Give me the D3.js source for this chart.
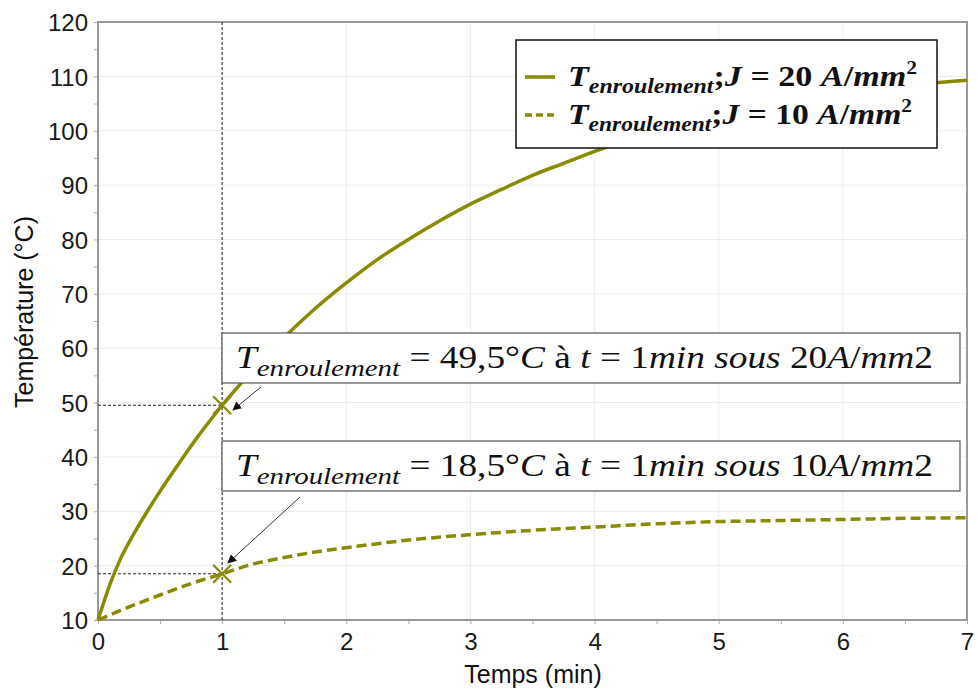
<!DOCTYPE html>
<html><head><meta charset="utf-8">
<script src="https://cdn.jsdelivr.net/npm/d3@7"></script>
<style>body{margin:0;background:#fff}svg{display:block}</style>
</head><body>
<svg id="c" width="978" height="689"></svg>
<script>
const time20 = [0,0.1,0.18,0.3,0.4,0.5,0.6,0.7,0.8,0.9,1.0,1.25,1.5,1.75,2.0,2.25,2.5,2.75,3.0,3.25,3.5,3.75,4.0,4.5,5,5.5,6,6.5,7];
const temp20 = [10,16.8,21.2,26.3,30.1,33.7,37.1,40.4,43.6,46.6,49.5,56,62,67.3,72,76.3,80,83.4,86.5,89.2,91.8,94,96.2,100,103,105.3,107,108.3,109.3];
const time10 = [0,0.25,0.5,0.75,1,1.25,1.5,1.75,2,2.5,3,3.5,4,4.5,5,5.5,6,6.5,7];
const temp10 = [10,12.4,14.6,16.7,18.5,20.3,21.5,22.5,23.3,24.7,25.7,26.5,27.1,27.7,28.1,28.3,28.5,28.7,28.8];
const xTicks = [0,1,2,3,4,5,6,7];
const yTicks = [10,20,30,40,50,60,70,80,90,100,110,120];
const markers = [{t:1, v:49.5}, {t:1, v:18.5}];
const olive = "#8a8a00";

const svg = d3.select("#c");
const x = d3.scaleLinear().domain([0,7]).range([98,967]);
const y = d3.scaleLinear().domain([10,120]).range([620,22]);

// grid
svg.append("g").selectAll("line").data(yTicks.slice(1)).join("line")
  .attr("x1",x(0)).attr("x2",x(7)).attr("y1",d=>y(d)).attr("y2",d=>y(d))
  .attr("stroke","#ececec").attr("stroke-width",1);
svg.append("g").selectAll("line").data(xTicks.slice(1)).join("line")
  .attr("y1",y(10)).attr("y2",y(120)).attr("x1",d=>x(d)).attr("x2",d=>x(d))
  .attr("stroke","#ececec").attr("stroke-width",1);

// axes
const yAxis = svg.append("g").attr("transform",`translate(${x(0)},0)`)
  .call(d3.axisLeft(y).tickValues(d3.range(10,121,5)).tickSize(4).tickFormat(d=> d%10===0 ? d : ""));
const xAxis = svg.append("g").attr("transform",`translate(0,${y(10)})`)
  .call(d3.axisBottom(x).tickValues(d3.range(0,7.01,0.5)).tickSize(4).tickFormat(d=> Number.isInteger(d) ? d : ""));
[yAxis,xAxis].forEach(a=>{
  a.select(".domain").remove();
  a.selectAll(".tick line").attr("stroke","#aaa");
  a.attr("font-size",null).attr("font-family",null);
  a.selectAll("text").style("font-family","'Liberation Sans', Arial, sans-serif").style("font-size","24px").attr("fill","#1a1a1a");
});
yAxis.selectAll("text").attr("x",-10).attr("dy","0.36em");
xAxis.selectAll("text").attr("y",13);

// frame
svg.append("rect").attr("x",x(0)).attr("y",y(120)).attr("width",x(7)-x(0)).attr("height",y(10)-y(120))
  .attr("fill","none").attr("stroke","#9a9a9a").attr("stroke-width",2);

// axis titles
svg.append("text").attr("x",533).attr("y",683).attr("text-anchor","middle")
  .attr("font-family","Liberation Sans, Arial, sans-serif").attr("font-size",25).attr("fill","#111").text("Temps (min)");
svg.append("text").attr("transform","translate(33,312) rotate(-90)").attr("text-anchor","middle")
  .attr("font-family","Liberation Sans, Arial, sans-serif").attr("font-size",25).attr("fill","#111").text("Température (°C)");

// reference dashed lines
const ref = svg.append("g").attr("stroke","#222").attr("stroke-width",1).attr("stroke-dasharray","3,2").attr("fill","none");
ref.append("line").attr("x1",x(1)).attr("x2",x(1)).attr("y1",y(120)).attr("y2",y(10));
markers.forEach(m=>{
  ref.append("line").attr("x1",x(0)).attr("x2",x(m.t)).attr("y1",y(m.v)).attr("y2",y(m.v));
});

// lines
const line = d3.line().x(d=>x(d[0])).y(d=>y(d[1])).curve(d3.curveMonotoneX);
svg.append("path").datum(time20.map((t,i)=>[t,temp20[i]])).attr("d",line)
  .attr("fill","none").attr("stroke",olive).attr("stroke-width",3.5);
svg.append("path").datum(time10.map((t,i)=>[t,temp10[i]])).attr("d",line)
  .attr("fill","none").attr("stroke",olive).attr("stroke-width",3.5).attr("stroke-dasharray","10,5");

// markers
markers.forEach(m=>{
  const cx=x(m.t), cy=y(m.v), s=9;
  svg.append("path").attr("d",`M${cx-s},${cy-s}L${cx+s},${cy+s}M${cx-s},${cy+s}L${cx+s},${cy-s}`)
    .attr("stroke",olive).attr("stroke-width",2.2);
});

// arrows
const defs = svg.append("defs");
defs.append("marker").attr("id","ah").attr("viewBox","0 0 10 10").attr("refX",9).attr("refY",5)
  .attr("markerWidth",9).attr("markerHeight",9).attr("markerUnits","userSpaceOnUse").attr("orient","auto")
  .append("path").attr("d","M0,0L10,5L0,10Z").attr("fill","#111");
svg.append("line").attr("x1",261).attr("y1",387).attr("x2",233).attr("y2",410)
  .attr("stroke","#333").attr("stroke-width",1).attr("marker-end","url(#ah)");
svg.append("line").attr("x1",300).attr("y1",497).attr("x2",228).attr("y2",563)
  .attr("stroke","#333").attr("stroke-width",1).attr("marker-end","url(#ah)");

// annotation boxes
const serif = "Liberation Serif, DejaVu Serif, serif";
function annot(y0, val, dens){
  svg.append("rect").attr("x",222).attr("y",y0).attr("width",738).attr("height",50)
    .attr("fill","#fff").attr("stroke","#555").attr("stroke-width",1.2);
  const t = svg.append("text").attr("x",236).attr("y",y0+35).attr("font-family",serif).attr("font-size",31).attr("fill","#111");
  const parts = [["T","italic",31,0],["enroulement","italic",24,8],[" = "+val+"°","normal",31,-8],["C","italic",31,0],[" à ","normal",31,0],["t","italic",31,0],[" = 1","normal",31,0],["min sous","italic",31,0],[" "+dens,"normal",31,0],["A","italic",31,0],["/","normal",31,0],["mm","italic",31,0],["2","normal",31,0]];
  parts.forEach(p=>t.append("tspan").attr("font-style",p[1]).attr("font-size",p[2]).attr("dy",p[3]).text(p[0]));
  t.attr("textLength",697).attr("lengthAdjust","spacingAndGlyphs");
}
annot(333,"49,5","20");
annot(441,"18,5","10");

// legend
svg.append("rect").attr("x",516).attr("y",40).attr("width",421).attr("height",108)
  .attr("fill","#fff").attr("stroke","#111").attr("stroke-width",1.5);
const leg = [{dens:"20", dash:null, yy:77, len:349},{dens:"10", dash:"7,4", yy:115, len:344}];
leg.forEach(l=>{
  svg.append("line").attr("x1",525).attr("x2",555).attr("y1",l.yy).attr("y2",l.yy)
    .attr("stroke",olive).attr("stroke-width",3.5).attr("stroke-dasharray",l.dash);
  const t = svg.append("text").attr("x",568).attr("y",l.yy+9).attr("font-family",serif).attr("font-weight","bold").attr("font-size",30).attr("fill","#111");
  const parts = [["T","italic",30,0],["enroulement","italic",21,7],[";","normal",30,-7],["J","italic",30,0],[" = "+l.dens+" ","normal",30,0],["A","italic",30,0],["/","normal",30,0],["mm","italic",30,0],["2","normal",19,-12]];
  parts.forEach(p=>t.append("tspan").attr("font-style",p[1]).attr("font-size",p[2]).attr("dy",p[3]).text(p[0]));
  t.attr("textLength",l.len).attr("lengthAdjust","spacingAndGlyphs");
});
</script>
</body></html>
